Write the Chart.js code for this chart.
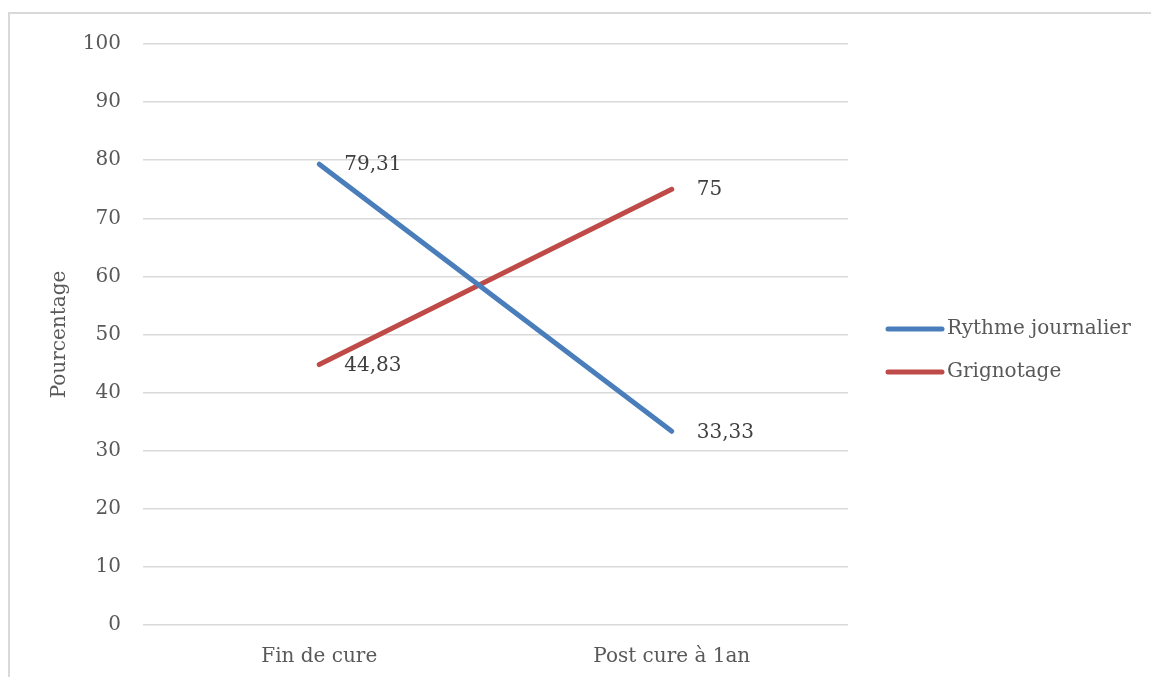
<!DOCTYPE html>
<html>
<head>
<meta charset="utf-8">
<script src="https://cdn.jsdelivr.net/npm/chart.js@4"></script>
<style>
  html, body { margin: 0; padding: 0; background: #fff; }
  #wrap { width: 1151px; height: 677px; }
</style>
</head>
<body>
<div id="wrap"><canvas id="myChart" width="1151" height="677"></canvas></div>
<script>
const categories = ['Fin de cure', 'Post cure à 1an']
const rythme = [79.31, 33.33]
const grignotage = [44.83, 75]
const seriesNames = ['Rythme journalier', 'Grignotage']
const yTicks = [0, 10, 20, 30, 40, 50, 60, 70, 80, 90, 100]

const FONT = '"DejaVu Serif", "Liberation Serif", serif'
const TEXT = '#595959'

// frame around the whole chart (only top and left edges are visible)
const framePlugin = {
  id: 'frame',
  beforeDraw(chart) {
    const c = chart.ctx
    c.save()
    c.fillStyle = '#d9d9d9'
    c.fillRect(8, 12, chart.width - 8, 2)
    c.fillRect(8, 12, 2, chart.height - 12)
    c.restore()
  }
}

// value labels to the right of each point
const valueLabels = {
  id: 'valueLabels',
  afterDatasetsDraw(chart) {
    const c = chart.ctx
    c.save()
    c.font = '20px ' + FONT
    c.fillStyle = '#404040'
    c.textAlign = 'left'
    c.textBaseline = 'middle'
    chart.data.datasets.forEach((ds, i) => {
      chart.getDatasetMeta(i).data.forEach((pt, j) => {
        c.fillText(String(ds.data[j]).replace('.', ','), pt.x + 25, pt.y + 1)
      })
    })
    c.restore()
  }
}

// legend with line samples on the right
const sideLegend = {
  id: 'sideLegend',
  afterDraw(chart) {
    const c = chart.ctx
    const a = chart.chartArea
    const x0 = a.right + 40
    const midY = (a.top + a.bottom) / 2 + 16
    c.save()
    c.font = '20px ' + FONT
    c.textBaseline = 'middle'
    c.textAlign = 'left'
    chart.data.datasets.forEach((ds, i) => {
      const y = midY + (i - 0.5) * 43
      c.strokeStyle = ds.borderColor
      c.lineWidth = 5
      c.lineCap = 'round'
      c.beginPath()
      c.moveTo(x0, y)
      c.lineTo(x0 + 54, y)
      c.stroke()
      c.fillStyle = TEXT
      c.fillText(ds.label, x0 + 59, y)
    })
    c.restore()
  }
}

const data = {
  labels: categories,
  datasets: [{
    label: seriesNames[0],
    data: rythme,
    borderColor: '#4a7ebb',
    backgroundColor: '#4a7ebb',
    borderWidth: 5,
    borderCapStyle: 'round',
    pointRadius: 0,
    tension: 0
  }, {
    label: seriesNames[1],
    data: grignotage,
    borderColor: '#be4b48',
    backgroundColor: '#be4b48',
    borderWidth: 5,
    borderCapStyle: 'round',
    pointRadius: 0,
    tension: 0
  }]
}

const config = {
  type: 'line',
  data: data,
  plugins: [framePlugin, valueLabels, sideLegend],
  options: {
    responsive: false,
    animation: false,
    layout: { padding: { left: 10, right: 303, top: 44, bottom: 8 } },
    plugins: {
      legend: { display: false },
      tooltip: { enabled: false }
    },
    scales: {
      x: {
        offset: true,
        afterFit(scale) { scale.height = 44 },
        grid: { display: false, drawTicks: false },
        border: { display: false },
        ticks: { color: TEXT, font: { family: FONT, size: 20 }, padding: 20, maxRotation: 0 }
      },
      y: {
        min: 0,
        max: 100,
        afterBuildTicks(scale) {
          scale.ticks = yTicks.map(v => ({ value: v }))
        },
        afterFit(scale) { scale.width = 133 },
        grid: { color: '#d9d9d9', lineWidth: 1.5, drawTicks: false },
        border: { display: false },
        ticks: { color: TEXT, font: { family: FONT, size: 20 }, padding: 22 },
        title: {
          display: true,
          text: 'Pourcentage',
          color: TEXT,
          font: { family: FONT, size: 20 },
          padding: { top: 38, bottom: 0 }
        }
      }
    }
  }
}

const myChart = new Chart(document.getElementById('myChart'), config)
</script>
</body>
</html>
